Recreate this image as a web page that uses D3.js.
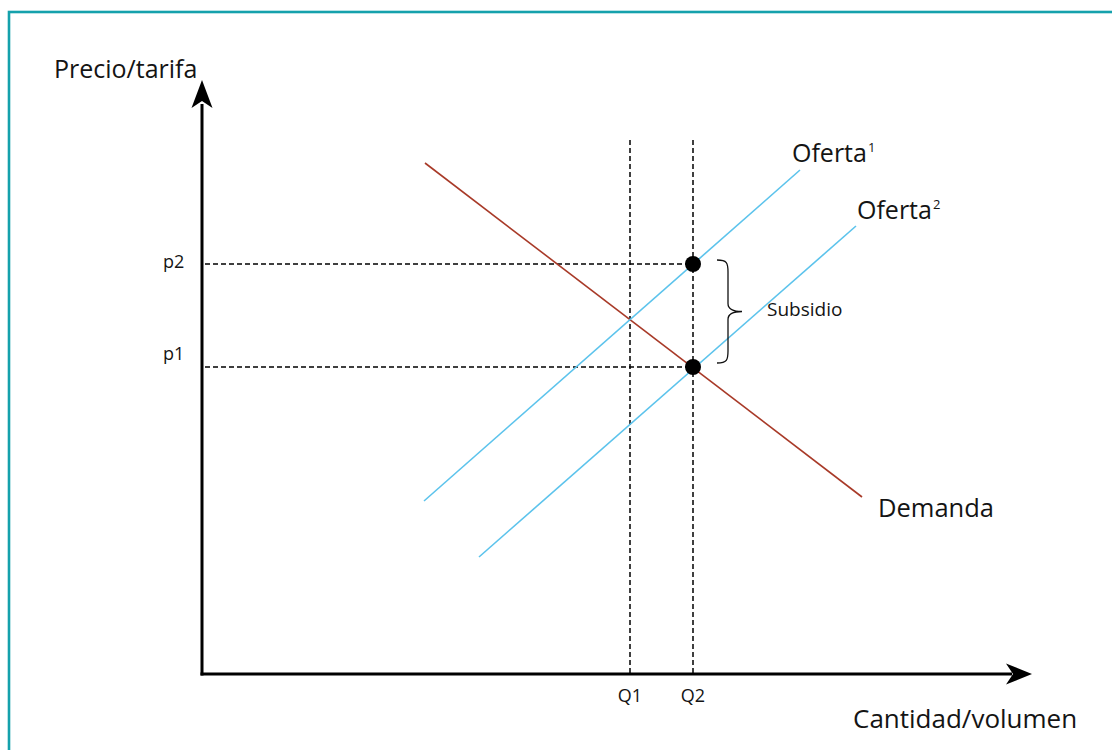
<!DOCTYPE html>
<html><head><meta charset="utf-8">
<script src="https://cdn.jsdelivr.net/npm/d3@7"></script>
<style>html,body{margin:0;padding:0;background:#fff;}svg{display:block;}text{font-family:"Open Sans",sans-serif;fill:#141414;}</style>
</head><body><svg id="c" width="1112" height="750"></svg>
<script>
// Data (abstract units: quantity, price)
const demanda = [[22.3, 51.1], [66.0, 17.7]];
const oferta1 = [[22.2, 17.3], [59.8, 50.4]];
const oferta2 = [[27.7, 11.7], [65.4, 44.8]];
const qTicks = [{label:"Q", sub:"1", v:42.8}, {label:"Q", sub:"2", v:49.1}];
const pTicks = [{label:"p", sub:"2", v:41.0}, {label:"p", sub:"1", v:30.7}];
const equilibria = [[49.1, 41.0], [49.1, 30.7]];
const guideTop = 53.4;

const svg = d3.select("#c");
const W = 1112, H = 750;
const x = d3.scaleLinear().domain([0, 83]).range([202, 1032]);
const y = d3.scaleLinear().domain([0, 59.4]).range([674, 80]);

// Frame
svg.append("rect").attr("x", 9).attr("y", 12).attr("width", W + 20).attr("height", H + 20)
  .attr("fill", "none").attr("stroke", "#15a1ac").attr("stroke-width", 2.6);

const line = d3.line().x(d => x(d[0])).y(d => y(d[1]));

// Dashed guides
const dash = "5,3";
qTicks.forEach(t => {
  svg.append("line").attr("x1", x(t.v)).attr("x2", x(t.v)).attr("y1", y(guideTop)).attr("y2", y(0))
    .attr("stroke", "#000").attr("stroke-width", 1.5).attr("stroke-dasharray", dash);
});
pTicks.forEach(t => {
  svg.append("line").attr("x1", x(0) + 3).attr("x2", x(49.1)).attr("y1", y(t.v)).attr("y2", y(t.v))
    .attr("stroke", "#000").attr("stroke-width", 1.5).attr("stroke-dasharray", dash);
});

// Curves
svg.append("path").datum(demanda).attr("d", line).attr("fill", "none").attr("stroke", "#a83a28").attr("stroke-width", 1.6);
svg.append("path").datum(oferta1).attr("d", line).attr("fill", "none").attr("stroke", "#5cc3ec").attr("stroke-width", 1.6);
svg.append("path").datum(oferta2).attr("d", line).attr("fill", "none").attr("stroke", "#5cc3ec").attr("stroke-width", 1.6);

// Points
svg.selectAll("circle.eq").data(equilibria).join("circle").attr("class", "eq")
  .attr("cx", d => x(d[0])).attr("cy", d => y(d[1])).attr("r", 8).attr("fill", "#000");

// Axes
const ox = x(0), oy = y(0);
svg.append("line").attr("x1", ox).attr("x2", ox).attr("y1", oy + 1.5).attr("y2", y(57)).attr("stroke", "#000").attr("stroke-width", 3);
svg.append("line").attr("x1", ox - 1.5).attr("x2", x(81)).attr("y1", oy).attr("y2", oy).attr("stroke", "#000").attr("stroke-width", 3);
const ty = y(59.4);
svg.append("path").attr("d", `M${ox},${ty} L${ox + 10.5},${ty + 28} L${ox},${ty + 21} L${ox - 10.5},${ty + 28} Z`).attr("fill", "#000");
const tx = x(83);
svg.append("path").attr("d", `M${tx},${oy} L${tx - 26},${oy - 10.5} L${tx - 19},${oy} L${tx - 26},${oy + 10.5} Z`).attr("fill", "#000");

// Axis labels
svg.append("text").attr("x", 54).attr("y", 78).attr("font-size", 25).text("Precio/tarifa");
svg.append("text").attr("x", 853).attr("y", 728).attr("font-size", 26).text("Cantidad/volumen");

// Tick labels
pTicks.forEach(t => {
  const tt = svg.append("text").attr("x", 163).attr("y", y(t.v) + (t.sub === "2" ? 4 : -7)).attr("font-size", 18);
  tt.append("tspan").text(t.label);
  tt.append("tspan").text(t.sub);
});
qTicks.forEach(t => {
  const tt = svg.append("text").attr("x", x(t.v)).attr("y", 702).attr("font-size", 18).attr("text-anchor", "middle");
  tt.append("tspan").text(t.label);
  tt.append("tspan").text(t.sub);
});

// Curve labels
function supLabel(px, py, main, sup) {
  const t = svg.append("text").attr("x", px).attr("y", py).attr("font-size", 25);
  t.append("tspan").text(main);
  t.append("tspan").attr("font-size", 13).attr("dx", 1).attr("dy", -10).text(sup);
}
supLabel(792, 162, "Oferta", "1");
supLabel(857, 219, "Oferta", "2");
svg.append("text").attr("x", 878).attr("y", 517).attr("font-size", 25.5).text("Demanda");

// Brace
const bx = 717, bt = y(41.0) - 4, bb = y(30.7) - 4, bm = (bt + bb) / 2;
svg.append("path").attr("d",
  `M${bx},${bt} C${bx + 10},${bt} ${bx + 11},${bt + 3} ${bx + 11},${bt + 12} L${bx + 11},${bm - 8} C${bx + 11},${bm - 2} ${bx + 16},${bm} ${bx + 25},${bm}` +
  ` M${bx + 25},${bm} C${bx + 16},${bm} ${bx + 11},${bm + 2} ${bx + 11},${bm + 8} L${bx + 11},${bb - 12} C${bx + 11},${bb - 3} ${bx + 10},${bb} ${bx},${bb}`)
  .attr("fill", "none").attr("stroke", "#111").attr("stroke-width", 1.3);
svg.append("text").attr("x", 767).attr("y", 316).attr("font-size", 19).text("Subsidio");
</script></body></html>
